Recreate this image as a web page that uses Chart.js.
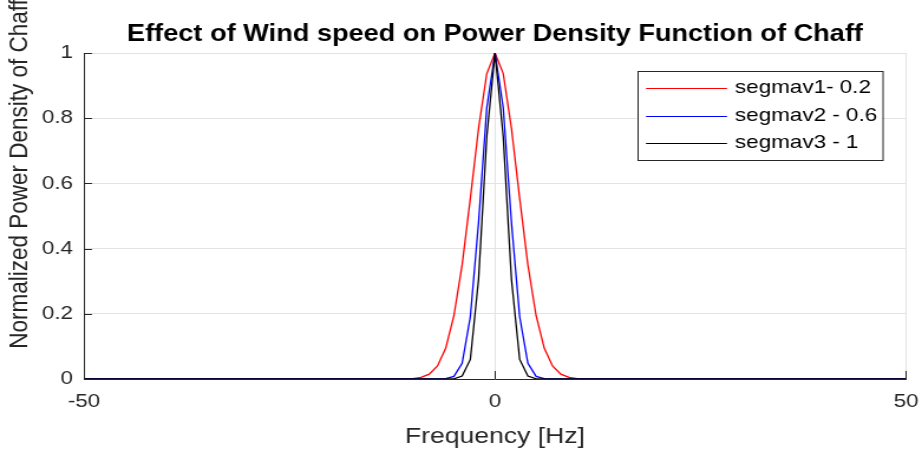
<!DOCTYPE html>
<html>
<head>
<meta charset="utf-8">
<script src="https://cdn.jsdelivr.net/npm/chart.js@4.4.0/dist/chart.umd.min.js"></script>
<style>
  html, body { margin: 0; padding: 0; background: #fff; overflow: hidden; }
  #wrap { width: 922px; height: 457px; overflow: hidden; }
  #chart { display: block; transform-origin: 0 0; }
</style>
</head>
<body>
<div id="wrap"><canvas id="chart"></canvas></div>
<script>
// frequency samples (Hz) and normalized power density of chaff per velocity spread
const freqHz = [-50, -12, -11, -10, -9, -8, -7, -6, -5, -4, -3, -2, -1, 0, 1, 2, 3, 4, 5, 6, 7, 8, 9, 10, 11, 12, 50];
const psdSegmav1 = [0, 0.0001, 0.0004, 0.0014, 0.005, 0.015, 0.04, 0.094, 0.194, 0.35, 0.554, 0.769, 0.937, 1, 0.937, 0.769, 0.554, 0.35, 0.194, 0.094, 0.04, 0.015, 0.005, 0.0014, 0.0004, 0.0001, 0];
const psdSegmav2 = [0, 0, 0, 0, 0, 0, 0.0001, 0.0013, 0.008, 0.048, 0.191, 0.48, 0.832, 1, 0.832, 0.48, 0.191, 0.048, 0.008, 0.0013, 0.0001, 0, 0, 0, 0, 0, 0];
const psdSegmav3 = [0, 0, 0, 0, 0, 0, 0, 0, 0.0006, 0.009, 0.06, 0.306, 0.744, 1, 0.744, 0.306, 0.06, 0.009, 0.0006, 0, 0, 0, 0, 0, 0, 0, 0];
const seriesNames = ['segmav1- 0.2', 'segmav2 - 0.6', 'segmav3 - 1'];
const seriesColors = ['#ff0000', '#0000ff', '#000000'];
const xTicks = [-50, 0, 50];
const yTicks = [0, 0.2, 0.4, 0.6, 0.8, 1];

const W = 922, H = 457;
const FONT = '"Liberation Sans", Arial, Helvetica, sans-serif';
const AXIS_COLOR = '#262626';

// the figure is laid out narrow and stretched sideways to fill the window
const canvas = document.getElementById('chart');
canvas.width = Math.round(W / 1.18);
canvas.height = H;
canvas.style.width = canvas.width + 'px';
canvas.style.height = H + 'px';
const sx = W / canvas.width;
canvas.style.transform = 'scale(' + sx + ',1)';

function points(ys) {
    return freqHz.map((f, i) => ({ x: f, y: ys[i] }));
}

// titles, inward tick marks and the boxed legend
const figureText = {
    id: 'figureText',
    afterDraw(chart) {
        const ctx = chart.ctx;
        const area = chart.chartArea;
        const xs = chart.scales.x, ys = chart.scales.y;
        ctx.save();

        // inward ticks
        ctx.strokeStyle = AXIS_COLOR;
        ctx.lineWidth = 1;
        ctx.beginPath();
        xTicks.forEach(v => {
            const px = Math.round(xs.getPixelForValue(v)) + 0.5;
            ctx.moveTo(px, area.bottom);
            ctx.lineTo(px, area.bottom - 8);
        });
        yTicks.forEach(v => {
            const py = Math.round(ys.getPixelForValue(v)) + 0.5;
            ctx.moveTo(area.left, py);
            ctx.lineTo(area.left + 8 / sx, py);
        });
        ctx.stroke();

        // title
        ctx.fillStyle = '#000';
        ctx.font = 'bold 23px ' + FONT;
        ctx.textAlign = 'center';
        ctx.textBaseline = 'middle';
        ctx.fillText('Effect of Wind speed on Power Density Function of Chaff', (area.left + area.right) / 2, 35);

        // axis titles
        ctx.fillStyle = AXIS_COLOR;
        ctx.font = '22.5px ' + FONT;
        ctx.fillText('Frequency [Hz]', (area.left + area.right) / 2, 437);
        ctx.save();
        ctx.translate(20 / sx, 174);
        ctx.rotate(-Math.PI / 2);
        ctx.fillText('Normalized Power Density of Chaff', 0, 0);
        ctx.restore();

        // legend box
        const bx = 637 / sx, by = 71, bw = (882 - 637) / sx, bh = 89;
        ctx.fillStyle = '#fff';
        ctx.fillRect(bx, by, bw, bh);
        ctx.strokeStyle = AXIS_COLOR;
        ctx.strokeRect(Math.round(bx) + 0.5, by + 0.5, bw, bh);
        const rows = [88, 116, 143];
        ctx.font = '19px ' + FONT;
        ctx.textAlign = 'left';
        chart.data.datasets.forEach((ds, i) => {
            ctx.strokeStyle = ds.borderColor;
            ctx.beginPath();
            ctx.moveTo(646 / sx, rows[i] + 0.5);
            ctx.lineTo(727 / sx, rows[i] + 0.5);
            ctx.stroke();
            ctx.fillStyle = '#000';
            ctx.fillText(ds.label, 735 / sx, rows[i]);
        });
        ctx.restore();
    }
};

const series = [psdSegmav1, psdSegmav2, psdSegmav3];

new Chart(canvas, {
    type: 'line',
    data: {
        datasets: series.map((ys, i) => ({
            label: seriesNames[i],
            data: points(ys),
            borderColor: seriesColors[i],
            backgroundColor: seriesColors[i],
            borderWidth: 1.3,
            pointRadius: 0,
            tension: 0,
            fill: false,
            order: series.length - i
        }))
    },
    options: {
        responsive: false,
        animation: false,
        devicePixelRatio: 1,
        layout: { padding: { left: 0, right: (W - 906) / sx, top: 53, bottom: 0 } },
        plugins: {
            legend: { display: false },
            title: { display: false },
            tooltip: { enabled: false }
        },
        scales: {
            x: {
                type: 'linear',
                min: -50,
                max: 50,
                afterFit: s => {
                    s.height = H - 379;
                    s.paddingLeft = 0;
                    s.paddingRight = 0;
                },
                afterBuildTicks: s => { s.ticks = xTicks.map(v => ({ value: v })); },
                ticks: {
                    font: { family: FONT, size: 19 },
                    color: AXIS_COLOR,
                    padding: 11,
                    maxRotation: 0,
                    autoSkip: false,
                    callback: v => String(v)
                },
                grid: { color: '#e3e3e3', drawTicks: false },
                border: { color: AXIS_COLOR, width: 1 }
            },
            y: {
                type: 'linear',
                min: 0,
                max: 1,
                afterFit: s => {
                    s.width = 84 / sx;
                    s.paddingTop = 0;
                    s.paddingBottom = 0;
                },
                afterBuildTicks: s => { s.ticks = yTicks.map(v => ({ value: v })); },
                ticks: {
                    font: { family: FONT, size: 19 },
                    color: AXIS_COLOR,
                    padding: 11 / sx,
                    autoSkip: false,
                    callback: v => String(v)
                },
                grid: { color: '#e3e3e3', drawTicks: false },
                border: { color: AXIS_COLOR, width: 1 }
            }
        }
    },
    plugins: [figureText]
});
</script>
</body>
</html>
